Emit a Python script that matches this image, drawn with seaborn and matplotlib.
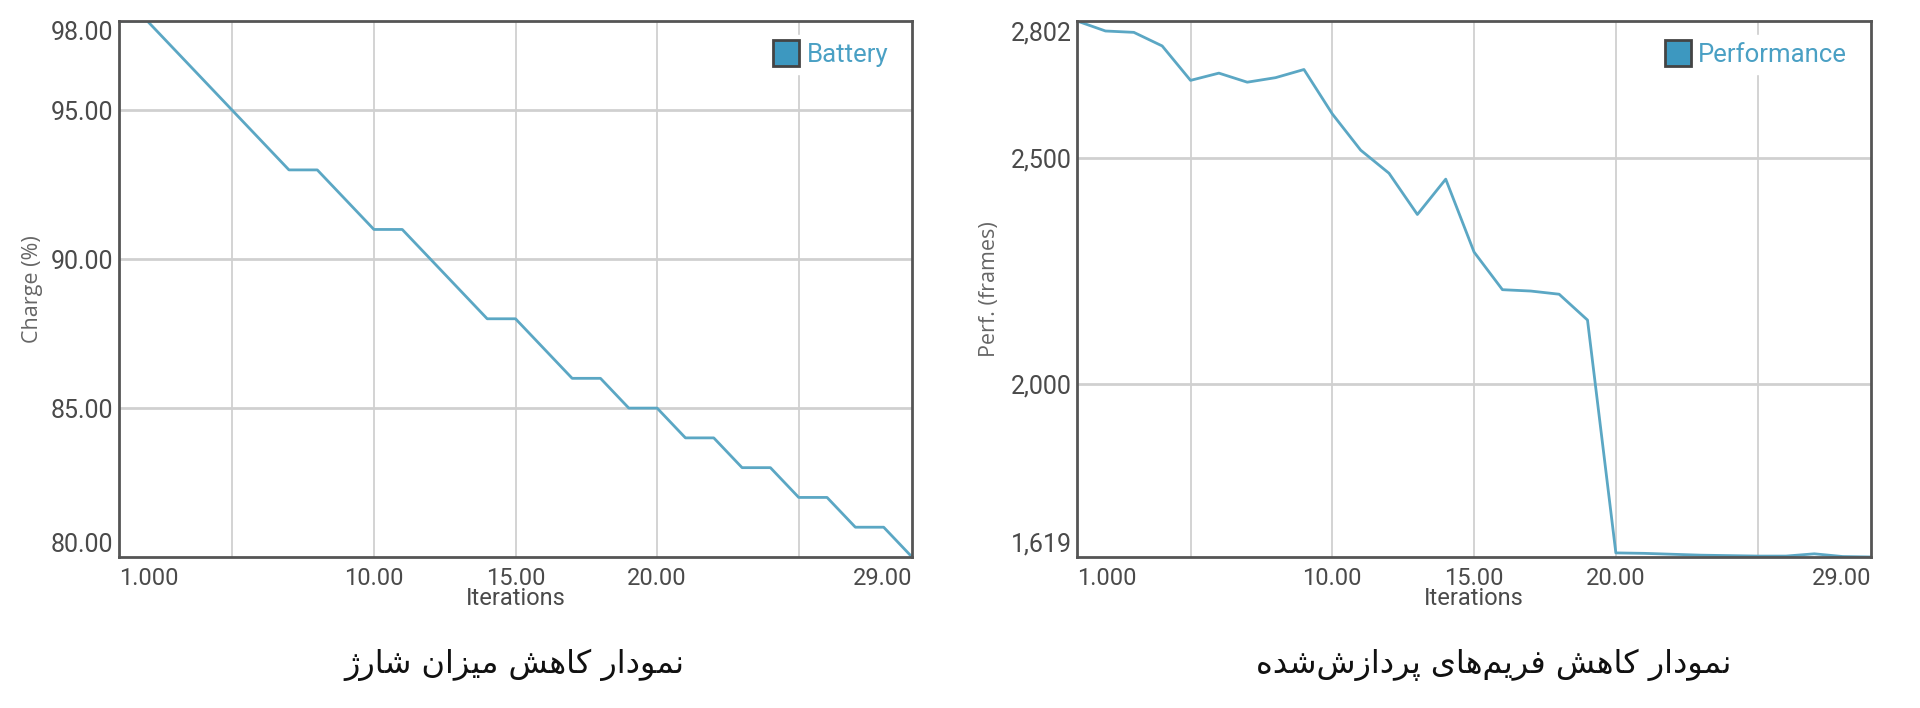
import numpy as np
import pandas as pd
import seaborn as sns
import matplotlib.pyplot as plt
from matplotlib.lines import Line2D

# data
iterations = list(range(1, 30))
battery = [98, 98, 97, 96, 95, 94, 93, 93, 92, 91, 91, 90, 89, 88, 88,
           87, 86, 86, 85, 85, 84, 84, 83, 83, 82, 82, 81, 81, 80]
performance = [2802, 2780, 2777, 2747, 2671, 2687, 2667, 2677, 2695, 2597,
               2517, 2466, 2375, 2453, 2292, 2209, 2206, 2199, 2142, 1628,
               1627, 1625, 1623, 1622, 1621, 1621, 1626, 1620, 1619]

x_ticks = [1, 10, 15, 20, 29]
x_ticklabels = ['1.000', '10.00', '15.00', '20.00', '29.00']
x_grid = [5, 10, 15, 20, 25]

bat_ticks = [80, 85, 90, 95, 98]
bat_ticklabels = ['80.00', '85.00', '90.00', '95.00', '98.00']
bat_grid = [85, 90, 95]

perf_ticks = [1619, 2000, 2500, 2802]
perf_ticklabels = ['1,619', '2,000', '2,500', '2,802']
perf_grid = [2000, 2500]

title_left = 'نمودار کاهش میزان شارژ'
title_right = 'نمودار کاهش فریم\u200cهای پردازش\u200cشده'

# tiny persian shaper, matplotlib has no arabic shaping / bidi
FORMS = {
    'ا': ('\uFE8D', '\uFE8E', None, None),
    'د': ('\uFEA9', '\uFEAA', None, None),
    'ر': ('\uFEAD', '\uFEAE', None, None),
    'ز': ('\uFEAF', '\uFEB0', None, None),
    'ژ': ('\uFB8A', '\uFB8B', None, None),
    'و': ('\uFEED', '\uFEEE', None, None),
    'ن': ('\uFEE5', '\uFEE6', '\uFEE7', '\uFEE8'),
    'م': ('\uFEE1', '\uFEE2', '\uFEE3', '\uFEE4'),
    'ک': ('\uFB8E', '\uFB8F', '\uFB90', '\uFB91'),
    'ه': ('\uFEE9', '\uFEEA', '\uFEEB', '\uFEEC'),
    'ش': ('\uFEB5', '\uFEB6', '\uFEB7', '\uFEB8'),
    'ی': ('\uFBFC', '\uFBFD', '\uFBFE', '\uFBFF'),
    'ف': ('\uFED1', '\uFED2', '\uFED3', '\uFED4'),
    'پ': ('\uFB56', '\uFB57', '\uFB58', '\uFB59'),
}
DUAL = set('نمکهشیفپ')


def shape_fa(text):
    out = []
    for i, ch in enumerate(text):
        if ch not in FORMS:
            out.append(ch)
            continue
        prev = text[i - 1] if i > 0 else ''
        nxt = text[i + 1] if i + 1 < len(text) else ''
        jp = prev in DUAL
        jn = ch in DUAL and nxt in FORMS
        iso, fin, ini, med = FORMS[ch]
        if jp and jn:
            out.append(med)
        elif jp:
            out.append(fin)
        elif jn:
            out.append(ini)
        else:
            out.append(iso)
    return ''.join(out).replace('\u200c', '')[::-1]


sns.set_style('white')
plt.rcParams['font.family'] = ['Roboto', 'DejaVu Sans']

line_col = '#5ba7c4'
grid_col = '#d0d0d0'
tick_col = '#4a4a4a'

fig = plt.figure(figsize=(19.2, 7.08), dpi=100)
ax1 = fig.add_axes([0.062, 0.2133, 0.413, 0.757])
ax2 = fig.add_axes([0.561, 0.2133, 0.4135, 0.757])

df1 = pd.DataFrame({'Iterations': iterations, 'Charge': battery})
df2 = pd.DataFrame({'Iterations': iterations, 'Perf': performance})

sns.lineplot(data=df1, x='Iterations', y='Charge', ax=ax1, color=line_col, lw=2)
sns.lineplot(data=df2, x='Iterations', y='Perf', ax=ax2, color=line_col, lw=2)


def style_axis(ax, yticks, yticklabels, ygrid, ylabel, ylab_x, leg_label):
    ax.set_xlim(1, 29)
    ax.set_ylim(yticks[0], yticks[-1])
    # keep minor grid lines even where they sit on a major tick
    ax.xaxis.remove_overlapping_locs = False
    ax.yaxis.remove_overlapping_locs = False
    ax.set_xticks(x_ticks)
    ax.set_xticklabels(x_ticklabels)
    ax.set_xticks(x_grid, minor=True)
    ax.set_yticks(yticks)
    ax.set_yticklabels(yticklabels)
    ax.set_yticks(ygrid, minor=True)
    ax.grid(False)
    ax.grid(which='minor', axis='x', color=grid_col, lw=1.3)
    ax.grid(which='minor', axis='y', color=grid_col, lw=2)
    ax.set_axisbelow(True)
    ax.tick_params(which='both', length=0)
    ax.tick_params(axis='x', pad=7, labelsize=17, labelcolor=tick_col)
    ax.tick_params(axis='y', pad=4, labelsize=18, labelcolor=tick_col)
    xl = ax.get_xticklabels()
    xl[0].set_ha('left')
    xl[-1].set_ha('right')
    yl = ax.get_yticklabels()
    yl[0].set_va('bottom')
    yl[-1].set_va('top')
    for s in ax.spines.values():
        s.set_visible(True)
        s.set_color('#555555')
        s.set_linewidth(2)
    ax.set_xlabel('Iterations', fontsize=17, color=tick_col)
    ax.xaxis.set_label_coords(0.5, -0.077)
    ax.xaxis.label.set_va('center')
    ax.set_ylabel(ylabel, fontsize=15.5, color='#666666', family='Open Sans')
    ax.yaxis.set_label_coords(ylab_x, 0.5)
    h = Line2D([], [], ls='none', marker='s', markersize=19,
               markerfacecolor='#3d98c0', markeredgecolor='#444444',
               markeredgewidth=2)
    leg = ax.legend([h], [leg_label], loc='upper right',
                    bbox_to_anchor=(0.996, 0.998), fontsize=18.5,
                    frameon=True, facecolor='white', edgecolor='white',
                    framealpha=1, handletextpad=0.3, borderpad=0.3,
                    handlelength=1.0)
    for t in leg.get_texts():
        t.set_color('#4aa0c4')


style_axis(ax1, bat_ticks, bat_ticklabels, bat_grid, 'Charge (%)', -0.096, 'Battery')
style_axis(ax2, perf_ticks, perf_ticklabels, perf_grid, 'Perf. (frames)', -0.097, 'Performance')

fig.text(0.268, 0.061, shape_fa(title_left), ha='center', va='center',
         fontsize=23, color='#111111', family='DejaVu Sans')
fig.text(0.778, 0.061, shape_fa(title_right), ha='center', va='center',
         fontsize=23, color='#111111', family='DejaVu Sans')

fig.savefig('out.png', dpi=100, facecolor='white')
